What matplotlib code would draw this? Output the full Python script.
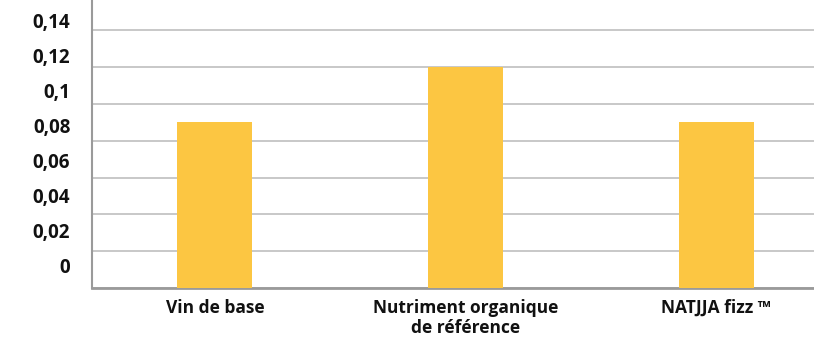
import numpy as np
import matplotlib.pyplot as plt

# données
categories = ['Vin de base', 'Nutriment organique\nde référence', 'NATJJA fizz ™']
valeurs = [0.09, 0.12, 0.09]
yticks = [0, 0.02, 0.04, 0.06, 0.08, 0.1, 0.12, 0.14]
ytick_labels = ['0', '0,02', '0,04', '0,06', '0,08', '0,1', '0,12', '0,14']

plt.rcParams['font.family'] = ['Open Sans', 'DejaVu Sans']

fig = plt.figure(figsize=(8.14, 3.4), dpi=100)
ax = fig.add_axes([92 / 814, 52 / 340, 1 - 92 / 814, 1 - 52 / 340])

x = np.arange(len(categories))
ax.bar(x, valeurs, width=0.3, color='#fcc642', zorder=3)

ax.set_ylim(0, 0.1565)
ax.set_xlim(-0.49, 2.39)
ax.set_yticks(yticks)
ax.set_yticklabels([])
ax.tick_params(axis='y', length=0)

# les étiquettes de l'axe y sont un peu décalées vers le haut dans l'original
for v, lab in zip(yticks, ytick_labels):
    ax.text(-0.03, v * 0.953 + 0.0108, lab, transform=ax.get_yaxis_transform(),
            ha='right', va='center', fontsize=13.5, fontweight='bold', color='#111111')

ax.set_xticks(x)
ax.set_xticklabels(categories, fontsize=12.5, fontweight='bold', linespacing=1.15,
                   color='#111111')
ax.tick_params(axis='x', length=0, pad=8)

ax.grid(axis='y', color='#c4c4c4', linewidth=1.3, zorder=0)
for s in ['top', 'right']:
    ax.spines[s].set_visible(False)
ax.spines['left'].set_color('#9a9a9a')
ax.spines['left'].set_linewidth(1.5)
ax.spines['bottom'].set_color('#9a9a9a')
ax.spines['bottom'].set_linewidth(2)

fig.savefig('out.png', dpi=100)
